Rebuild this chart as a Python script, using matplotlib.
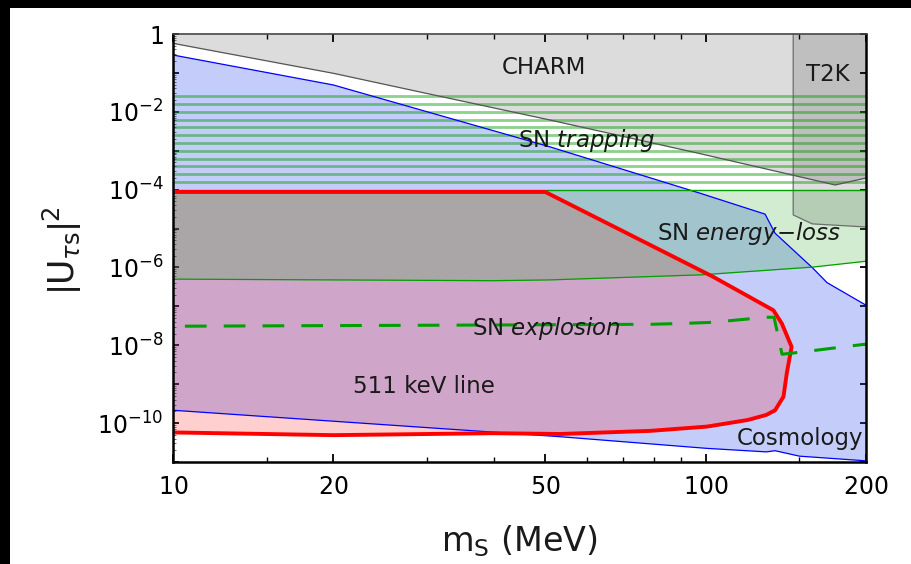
import numpy as np
import matplotlib
matplotlib.use("Agg")
import matplotlib.pyplot as plt
from matplotlib.patches import Rectangle
from matplotlib.ticker import FixedLocator, FixedFormatter, NullFormatter

plt.rcParams['font.family'] = ['DejaVu Sans']
plt.rcParams['mathtext.fontset'] = 'custom'
plt.rcParams['mathtext.rm'] = 'Liberation Sans'
plt.rcParams['mathtext.it'] = 'DejaVu Sans:italic'
plt.rcParams['mathtext.sf'] = 'DejaVu Sans'
plt.rcParams['mathtext.bf'] = 'DejaVu Sans:bold'

# ---------------- data (log10 |U|^2) ----------------
mass_ticks = [10, 20, 50, 100, 200]
mass_minor = [15, 30, 40, 60, 70, 80, 90, 150]
u_decades = list(range(0, -12, -1))
u_labels = ["1", "", r"10^{-2}", "", r"10^{-4}", "", r"10^{-6}", "", r"10^{-8}", "", r"10^{-10}", ""]

charm_m = [10, 20, 51, 98, 175, 200]
charm_logU = [-0.24, -1.01, -2.21, -3.08, -3.88, -3.70]

t2k_m = [146, 146, 158.5, 200, 200]
t2k_logU = [0.0, -4.65, -4.88, -4.96, 0.0]

trap_logU = [-3.8, -3.6, -3.4, -3.2, -3.0, -2.8, -2.6, -2.4, -2.2, -2.0, -1.8, -1.6]

eloss_upper_logU = -4.0
eloss_m = [10, 20, 40, 51, 98, 159, 200]
eloss_lower_logU = [-6.30, -6.32, -6.34, -6.32, -6.19, -5.99, -5.84]

cosmo_up_m = [10, 20, 51, 98, 129.3, 131, 135, 159, 169, 200]
cosmo_up_logU = [-0.54, -1.31, -2.90, -4.10, -4.63, -4.78, -5.12, -6.02, -6.39, -6.97]
cosmo_lo_m = [10, 53.3, 100.6, 130, 135, 150, 200]
cosmo_lo_logU = [-9.67, -10.35, -10.65, -10.74, -10.71, -10.85, -10.97]

kev_m = [10, 50, 103.3, 134, 139, 145, 142, 140, 135, 130, 120, 100.6, 78.7, 53.3, 39.9, 20, 10]
kev_logU = [-4.06, -4.06, -6.24, -7.10, -7.44, -8.04, -8.72, -9.32, -9.67, -9.79,
            -9.92, -10.09, -10.20, -10.28, -10.26, -10.31, -10.24]

expl_m = [10, 38, 79, 90, 103, 129.8, 134.4, 139.1, 145.9, 200]
expl_logU = [-7.51, -7.48, -7.46, -7.44, -7.41, -7.28, -7.28, -8.23, -8.20, -7.97]


def U(v):
    return np.power(10.0, np.asarray(v, dtype=float))


W, H = 911, 564
fig = plt.figure(figsize=(W / 100, H / 100), dpi=100)
fig.patch.set_facecolor('white')
ax = fig.add_axes([173 / W, 1 - 462 / H, 693 / W, 428 / H])
ax.set_xscale('log')
ax.set_yscale('log')
ax.set_xlim(10, 200)
ax.set_ylim(1e-11, 1)

# CHARM
cm = np.array(charm_m, float)
ax.fill_between(cm, U(charm_logU), 1.0, color='#dcdcdc', lw=0, zorder=1)

# Cosmology (blue)
poly_m = np.concatenate([cosmo_up_m, cosmo_lo_m[::-1]])
poly_u = np.concatenate([U(cosmo_up_logU), U(cosmo_lo_logU)[::-1]])
ax.fill(poly_m, poly_u, color=(0.09, 0.23, 0.92), alpha=0.25, lw=0, zorder=2)

# 511 keV (red)
ax.fill(kev_m, U(kev_logU), color=(1.0, 0.04, 0.04), alpha=0.2, lw=0, zorder=3)

# SN energy-loss (green)
em = np.array(eloss_m, float)
ax.fill_between(em, U(eloss_lower_logU), 10 ** eloss_upper_logU,
                color=(0.1, 0.63, 0.1), alpha=0.2, lw=0, zorder=4)

# T2K
ax.fill(t2k_m, U(t2k_logU), color='black', alpha=0.13, lw=0, zorder=5)
ax.plot(t2k_m[:4], U(t2k_logU[:4]), color='#6e6e6e', lw=0.9, zorder=6)

# SN trapping stripes
for lv in trap_logU:
    ax.plot([10, 200], [10 ** lv, 10 ** lv], color=(0.0, 0.6, 0.0), alpha=0.45,
            lw=2.0, solid_capstyle='butt', zorder=6)

# boundary lines
ax.plot(cm, U(charm_logU), color='#555555', lw=0.9, zorder=7)
ax.plot(cosmo_up_m, U(cosmo_up_logU), color='#0000ff', lw=0.9, zorder=7)
ax.plot(cosmo_lo_m, U(cosmo_lo_logU), color='#0000ff', lw=0.9, zorder=7)
ax.plot([10, 200], [10 ** eloss_upper_logU] * 2, color='#00a000', lw=1.0, zorder=7)
ax.plot(em, U(eloss_lower_logU), color='#00a000', lw=0.9, zorder=7)
ax.plot(kev_m, U(kev_logU), color='#ff0000', lw=2.8, zorder=8,
        solid_joinstyle='round', solid_capstyle='butt')
ax.plot(expl_m, U(expl_logU), color='#00a000', lw=2.2, zorder=8,
        linestyle=(8.8, (7.1, 5.6)))

# labels
tkw = dict(fontsize=16.5, color='#1a1a1a', zorder=10, ha='left', va='baseline')
ax.text(41.5, 10 ** -1.028, "CHARM", **tkw)
ax.text(154.3, 10 ** -1.208, "T2K", **tkw)
ax.text(44.4, 10 ** -2.913, r"SN $\mathit{trapping}$", **tkw)
ax.text(81.0, 10 ** -5.296, r"SN $\mathit{energy}$−$\mathit{loss}$", **tkw)
ax.text(36.4, 10 ** -7.738, r"SN $\mathit{explosion}$", **tkw)
ax.text(21.8, 10 ** -9.221, "511 keV line", **tkw)
ax.text(114.6, 10 ** -10.566, "Cosmology", **tkw)

# ticks
ax.xaxis.set_major_locator(FixedLocator(mass_ticks))
ax.xaxis.set_major_formatter(FixedFormatter([r"$\mathregular{%d}$" % m for m in mass_ticks]))
ax.xaxis.set_minor_locator(FixedLocator(mass_minor))
ax.xaxis.set_minor_formatter(NullFormatter())

ax.yaxis.set_major_locator(FixedLocator([10.0 ** d for d in u_decades]))
ax.yaxis.set_major_formatter(FixedFormatter(
    [(r"$\mathregular{%s}$" % s) if s else "" for s in u_labels]))
ymin = [10.0 ** d * k for d in range(-11, 0) for k in range(2, 10)]
ax.yaxis.set_minor_locator(FixedLocator(ymin))
ax.yaxis.set_minor_formatter(NullFormatter())

ax.tick_params(axis='x', which='major', direction='in', length=6, width=1.3,
               top=True, bottom=True, labelsize=17, pad=9, colors='black')
ax.tick_params(axis='x', which='minor', direction='in', length=3.5, width=1.0,
               top=True, bottom=True)
ax.tick_params(axis='y', which='major', direction='in', length=4.5, width=1.3,
               left=True, right=True, labelsize=17, pad=7)
ax.tick_params(axis='y', which='minor', direction='in', length=2, width=0.6,
               left=True, right=False, color='#555555')

for s in ['left', 'bottom', 'right']:
    ax.spines[s].set_linewidth(1.8)
    ax.spines[s].set_color('black')
ax.spines['top'].set_linewidth(1.2)
ax.spines['top'].set_color('#444444')
for s in ax.spines.values():
    s.set_zorder(12)

# axis titles
fig.text(519 / W, 1 - 541 / H, r"$\mathsf{m}_\mathsf{S}$ (MeV)", fontsize=24,
         ha='center', va='center', color='#1a1a1a')
fig.text(62 / W, 1 - 250 / H, r"$|\mathsf{U}_{\tau\mathsf{s}}|^{\mathsf{2}}$", fontsize=25,
         ha='center', va='center', rotation=90, color='#1a1a1a')

# black border strips (top and left)
fig.add_artist(Rectangle((0, 1 - 8 / H), 1, 8 / H, transform=fig.transFigure,
                         color='black', lw=0, zorder=20))
fig.add_artist(Rectangle((0, 0), 10 / W, 1, transform=fig.transFigure,
                         color='black', lw=0, zorder=20))

fig.savefig("out.png", dpi=100)
